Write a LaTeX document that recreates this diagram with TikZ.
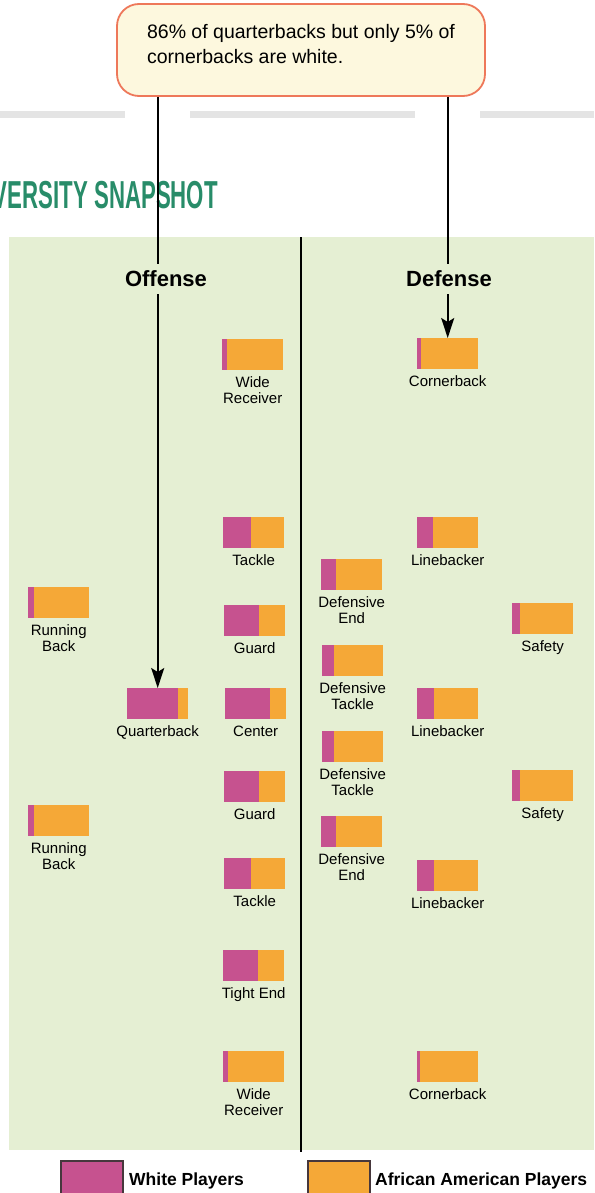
\documentclass[tikz,border=0pt]{standalone}
\usepackage{fontspec}
\setmainfont{Liberation Sans}
\usetikzlibrary{arrows.meta,positioning}

\definecolor{whitepl}{RGB}{198,82,143}
\definecolor{blackpl}{RGB}{245,168,55}
\definecolor{field}{RGB}{229,239,211}
\definecolor{notefill}{RGB}{253,248,222}
\definecolor{noteline}{RGB}{238,120,90}
\definecolor{headgreen}{RGB}{40,140,105}
\definecolor{rulegray}{RGB}{228,228,228}

\begin{document}
\begin{tikzpicture}[x=1pt,y=-1pt,>={Stealth[length=20pt,width=13pt,inset=4pt]},
  conn/.style={line width=1.8pt},node distance=6pt]
  \tikzstyle{bar}=[fill=blackpl,minimum width=61pt,minimum height=31pt,inner sep=0pt,anchor=north west]
  \tikzstyle{plabel}=[font=\fontsize{15}{16}\selectfont,align=center,inner sep=0pt]
  \tikzstyle{side}=[font=\fontsize{22}{24}\selectfont\bfseries,inner xsep=2pt,inner ysep=7pt]
  \tikzstyle{swatch}=[draw={rgb,255:red,70;green,55;blue,60},line width=1.5pt,minimum width=62pt,minimum height=38pt,inner sep=0pt,anchor=north west]
  \tikzstyle{keytext}=[font=\fontsize{17.5}{20}\selectfont\bfseries,anchor=base west,inner sep=0pt]

  \useasboundingbox (0,0) rectangle (594,1193);
  \fill[white] (0,0) rectangle (594,1193);

  % page rules and field
  \draw[rulegray,line width=7pt] (0,115) -- (125,115);
  \draw[rulegray,line width=7pt] (190,115) -- (415,115);
  \draw[rulegray,line width=7pt] (480,115) -- (594,115);
  \fill[field] (9,237) rectangle (594,1150);
  \draw[line width=2.4pt] (301,237) -- (301,1152);

  \node[font=\fontsize{39}{40}\selectfont\bfseries,text=headgreen,anchor=base east,inner sep=0pt]
    (title) at (218,208) {\scalebox{0.57}[1]{VERSITY SNAPSHOT}};

  \node[draw=noteline,fill=notefill,line width=1.8pt,rounded corners=22pt,
    minimum width=368pt,minimum height=92pt,align=left,
    font=\fontsize{19.5}{25}\selectfont] (note) at (301,50)
    {86\% of quarterbacks but only 5\% of\\cornerbacks are white.\rule[-13pt]{0pt}{0pt}};

  \node[side] (offense) at (166,279) {Offense};
  \node[side] (defense) at (449,279) {Defense};

  % offense
  \node[bar] (wr1) at (222,339) {};
  \node[bar] (tk1) at (223,517) {};
  \node[bar] (rb1) at (28,587) {};
  \node[bar] (gd1) at (224,605) {};
  \node[bar] (qb)  at (127,688) {};
  \node[bar] (ct)  at (225,688) {};
  \node[bar] (gd2) at (224,771) {};
  \node[bar] (rb2) at (28,805) {};
  \node[bar] (tk2) at (224,858) {};
  \node[bar] (te)  at (223,950) {};
  \node[bar] (wr2) at (223,1051) {};

  % defense
  \node[bar] (cb1) at (417,338) {};
  \node[bar] (lb1) at (417,517) {};
  \node[bar] (de1) at (321,559) {};
  \node[bar] (sf1) at (512,603) {};
  \node[bar] (dt1) at (322,645) {};
  \node[bar] (lb2) at (417,688) {};
  \node[bar] (dt2) at (322,731) {};
  \node[bar] (sf2) at (512,770) {};
  \node[bar] (de2) at (321,816) {};
  \node[bar] (lb3) at (417,860) {};
  \node[bar] (cb2) at (417,1051) {};

  \foreach \n/\s in {wr1/0.08,tk1/0.46,rb1/0.10,gd1/0.58,qb/0.84,ct/0.74,gd2/0.58,
      rb2/0.10,tk2/0.45,te/0.58,wr2/0.08,cb1/0.06,lb1/0.27,de1/0.25,sf1/0.13,
      dt1/0.20,lb2/0.28,dt2/0.20,sf2/0.13,de2/0.24,lb3/0.28,cb2/0.05}
    \fill[whitepl] (\n.north west) rectangle ([xshift=\s*61pt]\n.south west);

  \node[plabel] (wr1-l) [below=of wr1] {Wide\\Receiver};
  \node[plabel] (tk1-l) [below=of tk1] {Tackle};
  \node[plabel] (rb1-l) [below=of rb1] {Running\\Back};
  \node[plabel] (gd1-l) [below=of gd1] {Guard};
  \node[plabel] (qb-l)  [below=of qb]  {Quarterback};
  \node[plabel] (ct-l)  [below=of ct]  {Center};
  \node[plabel] (gd2-l) [below=of gd2] {Guard};
  \node[plabel] (rb2-l) [below=of rb2] {Running\\Back};
  \node[plabel] (tk2-l) [below=of tk2] {Tackle};
  \node[plabel] (te-l)  [below=of te]  {Tight End};
  \node[plabel] (wr2-l) [below=of wr2] {Wide\\Receiver};
  \node[plabel] (cb1-l) [below=of cb1] {Cornerback};
  \node[plabel] (lb1-l) [below=of lb1] {Linebacker};
  \node[plabel] (de1-l) [below=of de1] {Defensive\\End};
  \node[plabel] (sf1-l) [below=of sf1] {Safety};
  \node[plabel] (dt1-l) [below=of dt1] {Defensive\\Tackle};
  \node[plabel] (lb2-l) [below=of lb2] {Linebacker};
  \node[plabel] (dt2-l) [below=of dt2] {Defensive\\Tackle};
  \node[plabel] (sf2-l) [below=of sf2] {Safety};
  \node[plabel] (de2-l) [below=of de2] {Defensive\\End};
  \node[plabel] (lb3-l) [below=of lb3] {Linebacker};
  \node[plabel] (cb2-l) [below=of cb2] {Cornerback};

  % arrows from the note
  \draw[conn] (note.south -| qb.north) -- (offense.north -| qb.north);
  \draw[conn,->] (offense.south -| qb.north) -- (qb.north);
  \draw[conn] (note.south -| cb1.north) -- (defense.north -| cb1.north);
  \draw[conn,->] (defense.south -| cb1.north) -- (cb1.north);

  % key
  \node[swatch,fill=whitepl] (keyw) at (60,1160) {};
  \node[keytext] (keyw-t) at (129,1185) {White Players};
  \node[swatch,fill=blackpl] (keya) at (307,1160) {};
  \node[keytext] (keya-t) at (375,1185) {African American Players};
\end{tikzpicture}
\end{document}
